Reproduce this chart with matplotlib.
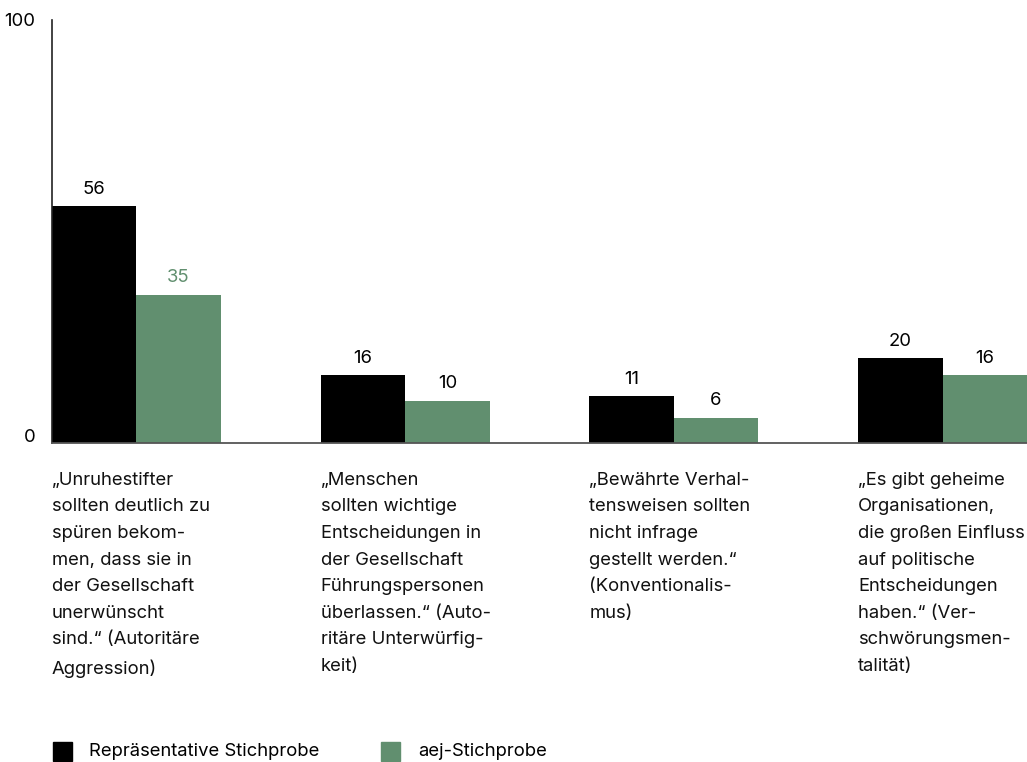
import numpy as np
import matplotlib.pyplot as plt
import matplotlib.transforms as mtransforms
from matplotlib.patches import Rectangle

plt.rcParams['font.family'] = ['Inter', 'DejaVu Sans']

categories = [
    "„Unruhestifter\nsollten deutlich zu\nspüren bekom-\nmen, dass sie in\nder Gesellschaft\nunerwünscht\nsind.“ (Autoritäre\nAggression)",
    "„Menschen\nsollten wichtige\nEntscheidungen in\nder Gesellschaft\nFührungspersonen\nüberlassen.“ (Auto-\nritäre Unterwürfig-\nkeit)",
    "„Bewährte Verhal-\ntensweisen sollten\nnicht infrage\ngestellt werden.“\n(Konventionalis-\nmus)",
    "„Es gibt geheime\nOrganisationen,\ndie großen Einfluss\nauf politische\nEntscheidungen\nhaben.“ (Ver-\nschwörungsmen-\ntalität)",
]
repr_values = [56, 16, 11, 20]
aej_values = [35, 10, 6, 16]
series_names = ["Repräsentative Stichprobe", "aej-Stichprobe"]

BLACK = "#000000"
GREEN = "#618f6f"
FS = 13.3

fig = plt.figure(figsize=(10.27, 7.62), dpi=100)
ax = fig.add_axes([52 / 1027, 319 / 762, 975 / 1027, 423 / 762])

x = np.arange(len(categories))
w = 0.314
ax.bar(x - w / 2, repr_values, w, color=BLACK)
ax.bar(x + w / 2, aej_values, w, color=GREEN)

for i in range(len(categories)):
    ax.text(x[i] - w / 2, repr_values[i] + 2, str(repr_values[i]),
            ha='center', va='bottom', fontsize=FS, color=BLACK)
    col = GREEN if i == 0 else BLACK
    ax.text(x[i] + w / 2, aej_values[i] + 2, str(aej_values[i]),
            ha='center', va='bottom', fontsize=FS, color=col)
    ax.text(x[i] - w, -0.068, categories[i], transform=ax.get_xaxis_transform(),
            ha='left', va='top', fontsize=FS, linespacing=1.74, color="#111111")

ax.set_xlim(-w, 3 + w)
ax.set_ylim(0, 100)
ax.set_yticks([0, 100])
ax.set_yticklabels(["0", "100"], fontsize=FS)
ax.tick_params(axis='y', length=0, pad=12)
ax.set_xticks([])
# nudge the "0" a bit up like in the original
lbl0 = ax.get_yticklabels()[0]
lbl0.set_transform(lbl0.get_transform() + mtransforms.ScaledTranslation(0, 7 / 100, fig.dpi_scale_trans))
for s in ['top', 'right']:
    ax.spines[s].set_visible(False)
ax.spines['left'].set_color("#222222")
ax.spines['left'].set_linewidth(1.2)
ax.spines['bottom'].set_color("#555555")
ax.spines['bottom'].set_linewidth(1.3)

# legend
fig.patches.append(Rectangle((53 / 1027, 1 / 762), 19 / 1027, 19 / 762,
                             transform=fig.transFigure, color=BLACK))
fig.text(89 / 1027, 11 / 762, series_names[0], fontsize=FS, va='center')
fig.patches.append(Rectangle((381 / 1027, 1 / 762), 19 / 1027, 19 / 762,
                             transform=fig.transFigure, color=GREEN))
fig.text(418 / 1027, 11 / 762, series_names[1], fontsize=FS, va='center')

fig.savefig("out.png", dpi=100)
